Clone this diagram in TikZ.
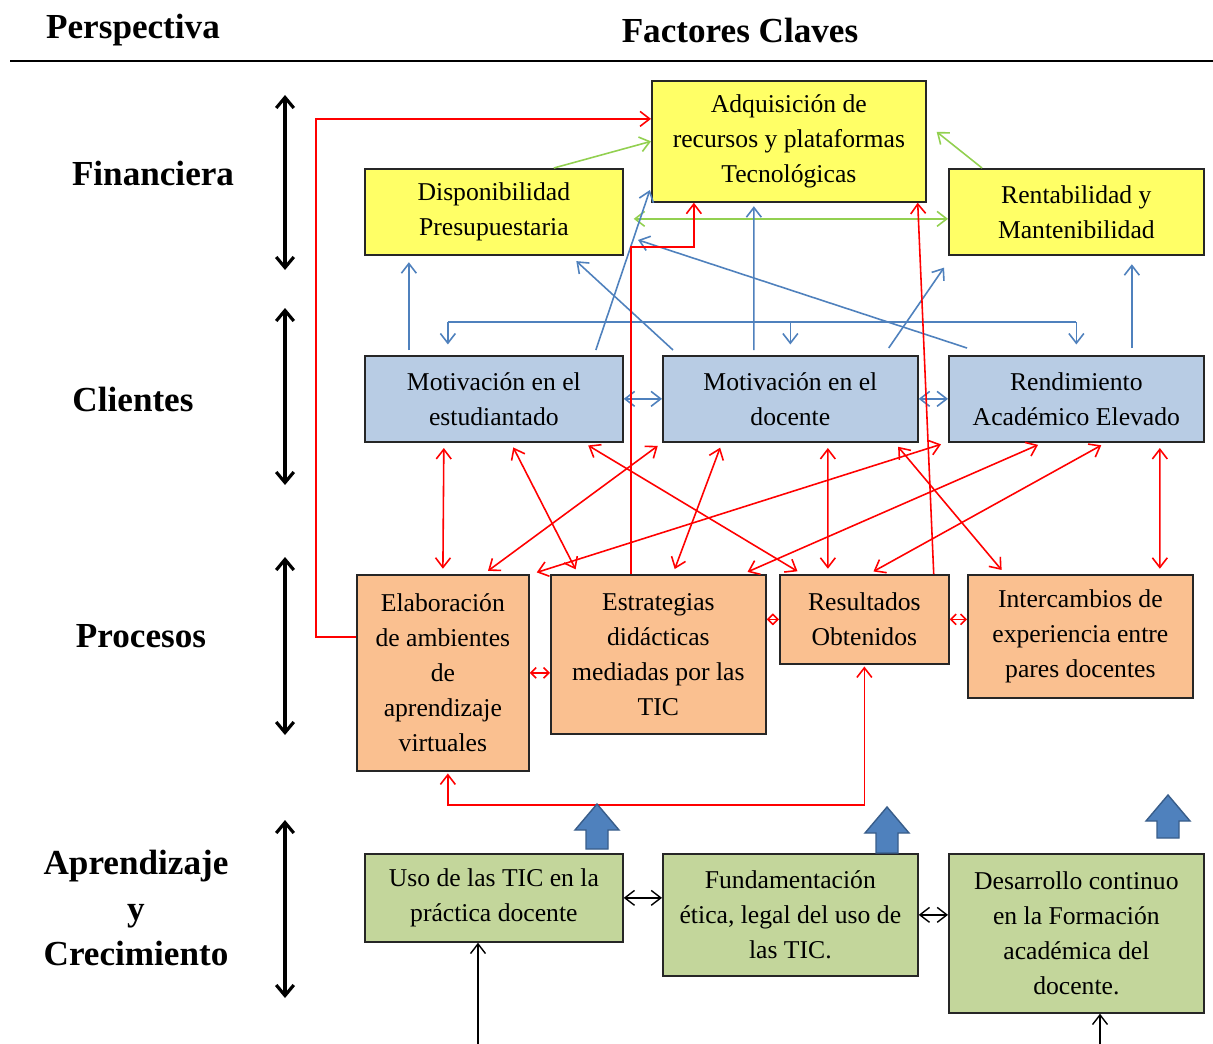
\documentclass[tikz,border=0pt]{standalone}
\usepackage{fontspec}
\setmainfont{Liberation Serif}
\usetikzlibrary{arrows.meta,calc}

\definecolor{ryellow}{HTML}{FFFF66}
\definecolor{rblue}{HTML}{B8CCE4}
\definecolor{rorange}{HTML}{FAC090}
\definecolor{rgreen}{HTML}{C3D69B}
\definecolor{lblue}{HTML}{4F81BD}
\definecolor{dblue}{HTML}{385D8A}
\definecolor{lgreen}{HTML}{92D050}

\begin{document}
\begin{tikzpicture}[x=0.02cm, y=-0.02cm,
    basebox/.style={draw=black!85, line width=1pt, align=center, anchor=north west,
        inner sep=2pt, font=\fontsize{14.6}{20}\selectfont},
    finbox/.style={basebox, fill=ryellow},
    clibox/.style={basebox, fill=rblue},
    probox/.style={basebox, fill=rorange},
    aprbox/.style={basebox, fill=rgreen},
    persp/.style={font=\fontsize{20}{26}\selectfont\bfseries, align=center},
    vtip/.tip={Straight Barb[length=5.5pt,width=8.5pt]},
    barrow/.style={draw=lblue, line width=0.9pt, -vtip, shorten >=2pt},
    bdarrow/.style={draw=lblue, line width=0.9pt, vtip-vtip},
    garrow/.style={draw=lgreen, line width=0.9pt, -vtip},
    gdarrow/.style={draw=lgreen, line width=0.9pt, vtip-vtip},
    rarrow/.style={draw=red, line width=0.9pt, -vtip},
    rdarrow/.style={draw=red, line width=0.9pt, vtip-vtip, shorten <=3pt, shorten >=3pt},
    rsmall/.style={draw=red, line width=0.9pt, {Straight Barb[length=3pt,width=6pt]}-{Straight Barb[length=3pt,width=6pt]}},
    karrow/.style={draw=black, line width=0.8pt, -vtip},
    kdarrow/.style={draw=black, line width=0.8pt, vtip-vtip},
    bigarrow/.style={draw=black, line width=1.8pt, {Straight Barb[length=6pt,width=10pt]}-{Straight Barb[length=6pt,width=10pt]}},
]
\useasboundingbox (0,0) rectangle (1213,1044);
\fill[white] (0,0) rectangle (1213,1044);

% ---- header ----
\node[persp] (hper) at (133,30) {Perspectiva};
\node[persp] (hfac) at (740,30) {Factores Claves};
\draw[line width=1.2pt] (10,61) -- (1213,61);

% ---- perspectives ----
\node[persp] (lfin) at (153,173) {Financiera};
\node[persp] (lcli) at (133,399) {Clientes};
\node[persp] (lpro) at (141,636) {Procesos};
\node[persp] (lapr) at (136,908) {Aprendizaje\\y\\Crecimiento};
\foreach \ya/\yb in {95/270, 308/485, 557/735, 820/998} {
    \draw[bigarrow] (285,\ya) -- (285,\yb);
}

% ---- financiera ----
\node[finbox, minimum width=5.48cm, minimum height=2.42cm] (adq) at (651,80)
    {Adquisición de\\recursos y plataformas\\Tecnológicas};
\node[finbox, minimum width=5.16cm, minimum height=1.72cm] (disp) at (364,168)
    {Disponibilidad\\Presupuestaria};
\node[finbox, minimum width=5.10cm, minimum height=1.72cm] (rent) at (948,168)
    {Rentabilidad y\\Mantenibilidad};

% ---- clientes ----
\node[clibox, minimum width=5.16cm, minimum height=1.72cm] (motest) at (364,355)
    {Motivación en el\\estudiantado};
\node[clibox, minimum width=5.10cm, minimum height=1.72cm] (motdoc) at (662,355)
    {Motivación en el\\docente};
\node[clibox, minimum width=5.10cm, minimum height=1.72cm] (rend) at (948,355)
    {Rendimiento\\Académico Elevado};

% ---- procesos ----
\node[probox, minimum width=3.44cm, minimum height=3.92cm] (elab) at (356,574)
    {Elaboración\\de ambientes\\de\\aprendizaje\\virtuales};
\node[probox, minimum width=4.30cm, minimum height=3.18cm] (estr) at (550,574)
    {Estrategias\\didácticas\\mediadas por las\\TIC};
\node[probox, minimum width=3.38cm, minimum height=1.78cm] (res) at (779,574)
    {Resultados\\Obtenidos};
\node[probox, minimum width=4.50cm, minimum height=2.46cm] (inter) at (967,574)
    {Intercambios de\\experiencia entre\\pares docentes};

% ---- aprendizaje y crecimiento ----
\node[aprbox, minimum width=5.16cm, minimum height=1.76cm] (uso) at (364,853)
    {Uso de las TIC en la\\práctica docente};
\node[aprbox, minimum width=5.10cm, minimum height=2.44cm] (fund) at (662,853)
    {Fundamentación\\ética, legal del uso de\\las TIC.};
\node[aprbox, minimum width=5.10cm, minimum height=3.18cm] (des) at (948,853)
    {Desarrollo continuo\\en la Formación\\académica del\\docente.};

% green links
\draw[garrow] ([xshift=1.2cm]disp.north) -- (adq.west);
\draw[garrow] ([xshift=0.68cm]rent.north west) -- ([xshift=0.2cm,yshift=0.19cm]adq.east);
\draw[gdarrow] ([xshift=0.2cm,yshift=-0.14cm]disp.east) -- ([yshift=-0.14cm]rent.west);

% blue links
\coordinate (bus) at (0,322);
\coordinate (bA) at ([xshift=-0.92cm]motest.north);
\draw[draw=lblue, line width=0.9pt] (bA |- bus) -- (rend.north |- bus);
\foreach \c in {bA, motdoc.north, rend.north} {
    \draw[barrow, shorten >=6pt] (\c |- bus) -- (\c);
}
\draw[barrow] ([xshift=-1.7cm,yshift=0.1cm]motest.north) -- ([xshift=-1.7cm,yshift=-0.06cm]disp.south);
\draw[barrow] ([xshift=2.04cm,yshift=0.1cm]motest.north) -- ([yshift=0.32cm]adq.south west);
\draw[barrow] ([xshift=0.22cm,yshift=0.1cm]motdoc.north west) -- ([xshift=-1cm,yshift=-0.06cm]disp.south east);
\draw[barrow] ([xshift=-0.73cm,yshift=0.1cm]motdoc.north) -- ([xshift=-0.7cm]adq.south);
\draw[barrow] ([xshift=0.38cm,yshift=0.14cm]rend.north west) -- ([xshift=0.22cm,yshift=-0.54cm]disp.east);
\draw[barrow] ([xshift=-0.6cm,yshift=0.14cm]motdoc.north east) -- ([xshift=-0.04cm,yshift=-0.18cm]rent.south west);
\draw[barrow] ([xshift=1.11cm,yshift=0.14cm]rend.north) -- ([xshift=1.11cm,yshift=-0.1cm]rent.south);
\draw[bdarrow] (motest.east) -- (motdoc.west);
\draw[bdarrow] (motdoc.east) -- (rend.west);

% red links to financiera
\draw[rarrow] ([yshift=0.72cm]elab.west) -- ++(-40,0) |- ([yshift=0.45cm]adq.west);
\draw[rarrow] ([xshift=-0.55cm]estr.north) |- ([xshift=-1.9cm,yshift=-0.88cm]adq.south)
    -- ([xshift=-1.9cm]adq.south);
\draw[rarrow] ([xshift=-0.32cm]res.north east) -- ([xshift=-0.18cm]adq.south east);

% red links clientes - procesos
\draw[rdarrow] ([xshift=-1cm]motest.south) -- (elab.north);
\draw[rdarrow] ([xshift=0.34cm]motest.south) -- ([xshift=0.56cm]estr.north west);
\draw[rdarrow] ([xshift=-0.8cm]motest.south east) -- ([xshift=0.46cm]res.north west);
\draw[rdarrow] (motdoc.south west) -- ([xshift=-0.92cm]elab.north east);
\draw[rdarrow] ([xshift=1.2cm]motdoc.south west) -- ([xshift=0.29cm]estr.north);
\draw[rdarrow] ([xshift=-0.04cm]rend.south west) -- ([xshift=0.04cm]elab.north east);
\draw[rdarrow] ([xshift=-0.67cm]rend.south) -- ([xshift=-0.48cm]estr.north east);
\draw[rdarrow] ([xshift=0.59cm]rend.south) -- ([xshift=0.09cm]res.north);
\draw[rdarrow] ([xshift=-0.48cm]motdoc.south east) -- ([xshift=0.76cm]inter.north west);
\draw[rdarrow] ([xshift=0.75cm]motdoc.south) -- ([xshift=-0.73cm]res.north);
\draw[rdarrow] ([xshift=1.67cm]rend.south) -- ([xshift=1.59cm]inter.north);

% red links inside procesos
\draw[rsmall] (elab.east) -- (elab.east -| estr.west);
\draw[rsmall] (estr.east |- res.west) -- (res.west);
\draw[rsmall] (res.east) -- (res.east -| inter.west);
\draw[rdarrow, shorten <=1pt, shorten >=1pt] (res.south) -- ++(0,140) -| ([xshift=0.1cm]elab.south);

% aprendizaje links
\foreach \ax/\atip/\abot in {597/804/849, 887/807/853, 1168/795/838} {
    \filldraw[fill=lblue, draw=dblue, line width=0.8pt]
        (\ax-11,\abot) -- (\ax-11,\atip+26) -- (\ax-22,\atip+26) -- (\ax,\atip)
        -- (\ax+22,\atip+26) -- (\ax+11,\atip+26) -- (\ax+11,\abot) -- cycle;
}
\draw[kdarrow] (uso.east) -- (uso.east -| fund.west);
\draw[kdarrow] (fund.east) -- (fund.east -| des.west);
\coordinate (usoin) at (478,1044);
\coordinate (desin) at (1100,1044);
\draw[karrow] (usoin) -- (usoin |- uso.south);
\draw[karrow] (desin) -- (desin |- des.south);

\end{tikzpicture}
\end{document}
